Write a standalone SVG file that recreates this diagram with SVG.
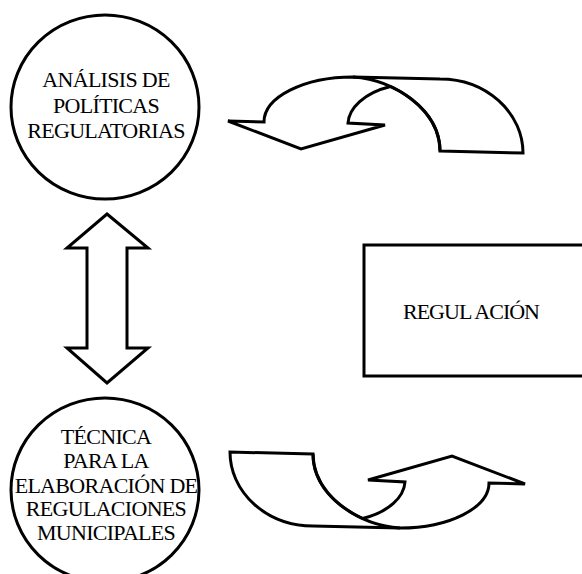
<svg xmlns="http://www.w3.org/2000/svg" width="582" height="574" viewBox="0 0 582 574">
  <style>
    .shape { fill: #fff; stroke: #000; stroke-width: 3; stroke-linejoin: miter; }
    .line { fill: none; stroke: #000; stroke-width: 3; }
    .lbl { font-family: "Liberation Serif", "Times New Roman", serif; font-size: 22px; letter-spacing: -0.7px; fill: #000; text-anchor: middle; }
    .big { letter-spacing: -1px; }
  </style>
  <rect width="582" height="574" fill="#fff"/>

  <g id="analisis">
    <ellipse class="shape" cx="105" cy="107" rx="94" ry="92"/>
    <text class="lbl" x="106" y="87">ANÁLISIS DE</text>
    <text class="lbl" x="106" y="113">POLÍTICAS</text>
    <text class="lbl" x="106" y="138">REGULATORIAS</text>
  </g>

  <g id="tecnica">
    <ellipse class="shape" cx="105" cy="490" rx="94" ry="92"/>
    <text class="lbl" x="106" y="444">TÉCNICA</text>
    <text class="lbl" x="106" y="468">PARA LA</text>
    <text class="lbl" x="106" y="493">ELABORACIÓN DE</text>
    <text class="lbl" x="106" y="516">REGULACIONES</text>
    <text class="lbl" x="106" y="540">MUNICIPALES</text>
  </g>

  <g id="regulacion">
    <rect class="shape" x="364" y="245" width="230" height="131"/>
    <text class="lbl big" x="471" y="319">REGUL<tspan dx="3">ACIÓN</tspan></text>
  </g>

  <g id="connectors">
    <polygon class="shape" points="107,214 148,248 127,248 127,348 148,348 107,383 67,348 87,348 87,248 67,248"/>
    <g id="uturn-top">
      <path class="shape" d="M 440 151 L 523 153 A 83 74 0 0 0 440 79 L 353 77 A 89 45 0 0 0 264 122 L 228 121 L 301 149 L 385 125 L 348 123 C 349 108 364 93 390.4 86.5 C 418 99 440 122.3 440 151 Z"/>
      <path class="line" d="M 353 77 C 395 80 440 110 440 151"/>
    </g>
    <g id="uturn-bottom" transform="rotate(180 376.5 302.5)">
      <path class="shape" d="M 440 151 L 523 153 A 83 74 0 0 0 440 79 L 353 77 A 89 45 0 0 0 264 122 L 228 121 L 301 149 L 385 125 L 348 123 C 349 108 364 93 390.4 86.5 C 418 99 440 122.3 440 151 Z"/>
      <path class="line" d="M 353 77 C 395 80 440 110 440 151"/>
    </g>
  </g>
</svg>
